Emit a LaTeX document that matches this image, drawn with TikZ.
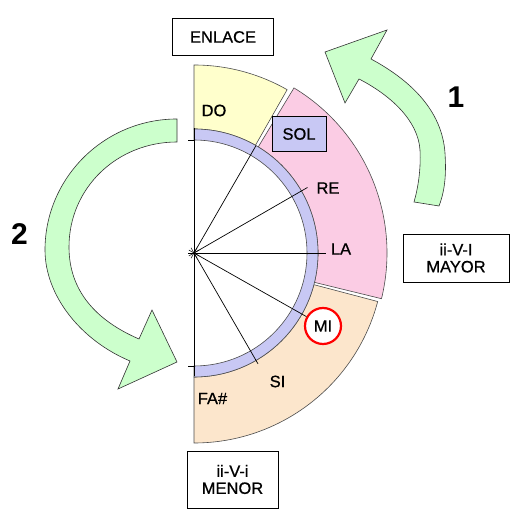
\documentclass[tikz,border=0pt]{standalone}
\usepackage{fontspec}
\setmainfont{Liberation Sans}
\newfontfamily\heavysans{Liberation Sans}[FakeBold=0.7]
\usepackage{xcolor}
\usepackage{tikz}
\usetikzlibrary{positioning}

\definecolor{enlaceyellow}{HTML}{FFFFCC}
\definecolor{mayorpink}{HTML}{FBCCE4}
\definecolor{menorpeach}{HTML}{FCE6CC}
\definecolor{ringblue}{HTML}{C8C8F4}
\definecolor{arrowgreen}{HTML}{CCFFCC}

\begin{document}
\begin{tikzpicture}[x=1pt, y=1pt,
    sector/.style={draw=black!70, line width=0.6pt},
    spoke/.style={draw=black, line width=0.7pt},
    note/.style={font=\heavysans\fontsize{16.5}{17}\selectfont, inner sep=0pt},
    tagbox/.style={rectangle, draw, line width=0.8pt, align=center, font=\heavysans\fontsize{16.5}{17}\selectfont},
    turn/.style={fill=arrowgreen, draw=black!80, line width=0.6pt},
    turnnum/.style={font=\fontsize{30}{30}\selectfont\bfseries}
]

\useasboundingbox (0, 0) rectangle (524, 521);

\filldraw[turn] (414, 319) -- (439, 315) .. controls (446, 333) and (446, 351) .. (445, 368)
    .. controls (442, 411) and (410, 441) .. (371, 462) -- (387, 491) -- (325, 469) -- (345, 418)
    -- (359, 442) .. controls (390, 426) and (418, 401) .. (420, 371)
    .. controls (421, 351) and (418, 333) .. (414, 319) -- cycle;
\filldraw[turn] (177, 402) .. controls (104, 402) and (45, 343) .. (45, 271)
    .. controls (45, 226) and (80, 181) .. (130, 160) -- (118, 132) -- (177, 159) -- (152, 211)
    -- (139, 182) .. controls (95, 201) and (69, 231) .. (69, 274)
    .. controls (69, 333) and (117, 379) .. (177, 379) -- cycle;

\node[turnnum] (one) at (456, 424) {1};
\node[turnnum] (two) at (19.5, 287) {2};

\node[tagbox, minimum width=101, minimum height=37] (enlace) at (223, 484) {ENLACE};
\node[tagbox, minimum width=106, minimum height=48] (mayor) at (456, 263) {ii-V-I\\MAYOR};
\node[tagbox, minimum width=91, minimum height=57] (menor) at (232.5, 41.5) {ii-V-i\\MENOR};

\begin{scope}[shift={(194, 268)}]
\coordinate (c) at (0, 0);

\filldraw[sector, fill=enlaceyellow] (90:124) arc[start angle=90, end angle=60.3, radius=124]
    -- (60.3:188) arc[start angle=60.3, end angle=90, radius=188] -- cycle;
\filldraw[sector, fill=mayorpink] (58.8:124) arc[start angle=58.8, end angle=-13.7, radius=124]
    -- (-13.7:193) arc[start angle=-13.7, end angle=58.8, radius=193] -- cycle;
\filldraw[sector, fill=menorpeach] (-14.8:124) arc[start angle=-14.8, end angle=-90, radius=124]
    -- (-90:190) arc[start angle=-90, end angle=-14.8, radius=190] -- cycle;
\filldraw[sector, fill=ringblue] (90:113) arc[start angle=90, end angle=-90, radius=113]
    -- (-90:124) arc[start angle=-90, end angle=90, radius=124] -- cycle;

\draw[spoke] (0, 125) -- (0, -123);
\draw[spoke] (-6, 113) -- (0, 113);
\draw[spoke] (-6, -113) -- (0, -113);
\foreach \a in {0, 30, ..., 330}
    \draw[line width=0.5pt] (c) -- (\a:6);

\coordinate (sol-end) at (60:124);
\coordinate (re-end) at (30:131);
\coordinate (la-end) at (0:132);
\coordinate (si-end) at (-60:128);

\node[circle, draw=red, line width=2.2pt, fill=white, minimum size=36, inner sep=0pt,
    font=\heavysans\fontsize{16.5}{17}\selectfont] (mi) at (129, -73) {MI};
\node[rectangle, draw, line width=0.8pt, fill=ringblue, minimum width=54, minimum height=35,
    font=\heavysans\fontsize{16.5}{17}\selectfont] (sol) at (105, 119) {SOL};

\draw[spoke] (c) -- (sol-end);
\draw[spoke] (c) -- (re-end);
\draw[spoke] (c) -- (la-end);
\draw[spoke] (c) -- (mi);
\draw[spoke] (c) -- (si-end);

\node[note] (do) at (20, 142.5) {DO};
\node[note] (re) at (134, 65) {RE};
\node[note] (la) at (147, 4) {LA};
\node[note] (si) at (83.5, -128.5) {SI};
\node[note] (fa) at (18.5, -145.5) {FA\#};
\end{scope}

\end{tikzpicture}
\end{document}
